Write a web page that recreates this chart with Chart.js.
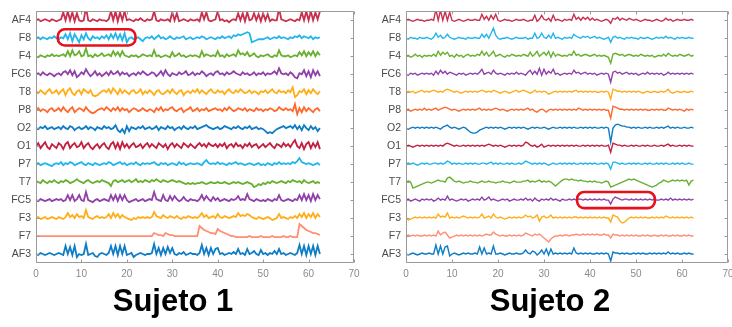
<!DOCTYPE html>
<html>
<head>
<meta charset="utf-8">
<script src="https://cdn.jsdelivr.net/npm/chart.js@4.4.1/dist/chart.umd.min.js"></script>
<style>
html, body { margin: 0; padding: 0; background: #fff; overflow: hidden; width: 732px; height: 327px; }
.panel { position: absolute; top: 0; height: 285px; }
#p1 { left: 0; width: 366px; }
#p2 { left: 370px; width: 370px; }
.title { position: absolute; top: 283px; width: 240px; text-align: center; color: #000;
  font: bold 31px/35px "Liberation Sans", Arial, sans-serif; }
</style>
</head>
<body>
<div class="panel" id="p1"><canvas id="chart1" width="366" height="285"></canvas></div>
<div class="panel" id="p2"><canvas id="chart2" width="370" height="285"></canvas></div>
<div class="title" style="left:53px">Sujeto 1</div>
<div class="title" style="left:430px">Sujeto 2</div>
<script>
// channel names, top to bottom
const channels = ['AF4', 'F8', 'F4', 'FC6', 'T8', 'P8', 'O2', 'O1', 'P7', 'T7', 'FC5', 'F3', 'F7', 'AF3'];
const xTicks = [0, 10, 20, 30, 40, 50, 60, 70];
const sampleStep = 0.5;      // seconds between samples
const channelSpacing = 18;   // amplitude units between two traces

// ---- Sujeto 1 ----
const s1AF4 = [0,1,-1,0,1,0,-1,1,0,-1, 0,1,8,0,9,0,8,-1,7,0, -1,0,13,0,-1,1,0,-1,1,0,
  0,-1,1,9,0,9,-1,8,0,9, 0,1,0,-1,1,0,2,0,-1,1, 0,1,9,0,-1,1,0,0,1,-1,
  8,0,7,-1,0,1,0,-1,1,0, 0,1,-1,8,1,8,0,-1,0,1, 9,0,1,-1,0,-2,0,1,0,7,
  0,7,-1,8,0,1,7,0,6,-1, 7,0,6,-1,1,0,0,12,1,0, -1,0,1,0,-1,1,0,8,0,9, 0,9,0,8,1,9];
const s1F8 = [0,1,-1,1,0,-1,1,0,2,0, -1,1,0,4,-1,5,-3,4,0,-4, 3,-1,5,0,-2,2,0,1,-1,2,
  0,3,-1,4,0,5,-1,4,-2,5, -4,0,1,-1,0,1,-1,-3,0,1, 0,2,-1,1,3,0,1,-1,0,2,
  0,-1,1,0,1,2,-1,0,1,-1, 0,1,0,2,1,-1,0,1,0,-1, 1,0,2,0,1,2,0,3,2,4,
  3,4,5,6,5,-4,-3,-2,-1,-1, -1,0,1,-1,0,1,0,2,0,1, 0,-1,1,0,2,1,3,0,2,1, 0,2,-1,1,0,1];
const s1F4 = [0,-1,1,0,-1,1,0,2,0,1, 0,1,2,0,5,0,6,1,2,5, 0,1,8,0,1,-1,2,0,1,3,
  0,1,2,0,5,1,4,0,5,1, 0,-1,1,0,1,-1,0,2,1,0, 1,0,6,0,1,-1,0,1,0,-1,
  4,0,1,3,0,1,-1,0,1,0, 1,0,-1,5,0,2,1,0,1,0, 5,0,1,-1,2,0,1,2,0,6,
  2,3,1,4,0,1,3,0,-1,1, 0,1,2,0,-1,1,0,6,1,0, 0,1,-1,0,1,0,4,1,5,0, 4,1,5,0,4,1];
const s1FC6 = [0,1,-1,2,0,-1,1,0,-2,0, 1,-1,2,3,0,4,-1,3,-3,-1, 2,0,5,1,-2,0,3,-1,1,-2,
  0,2,-1,3,0,1,3,-1,2,0, 1,-2,0,1,-1,2,0,3,1,-1, 0,2,1,-2,0,3,-1,4,0,-2,
  1,0,-1,2,0,1,3,-1,0,2, -1,1,0,3,1,-2,0,1,-1,2, 3,0,1,-1,2,0,1,3,1,0,
  -1,2,0,1,-1,0,2,-1,1,0, 2,-1,1,0,1,3,0,6,1,0, 1,-1,2,0,-3,-4,1,0,4,-2, 3,-3,4,-1,3,-2];
const s1T8 = [1,-1,2,0,-2,1,3,-1,0,2, -2,1,3,-3,2,4,-1,-3,1,2, -2,3,1,-1,2,-3,-4,-3,-1,1,
  2,0,3,-1,4,1,-2,3,-1,2, 0,-2,1,2,-1,0,3,-2,1,-1, 2,0,-3,1,2,-1,-2,0,2,-1,
  3,0,-2,1,2,-3,0,1,-1,2, 0,3,-1,2,0,-2,1,3,0,-1, 2,0,1,-2,1,3,0,-1,2,0,
  3,1,-1,0,2,-1,1,0,-2,1, 0,2,-1,1,3,0,-1,2,0,1, -1,2,0,5,-5,-3,1,0,3,-2, 2,-1,3,0,-2,1];
const s1P8 = [0,2,-1,1,0,-2,1,2,-1,0, 2,-1,3,0,-2,1,3,-2,0,2, 1,-1,3,0,-2,-3,-2,0,1,2,
  0,3,1,-1,2,0,3,-1,2,0, 1,-2,0,2,1,-1,0,2,0,-1, 1,0,-2,2,0,3,-1,1,0,2,
  3,0,-1,1,2,-2,0,1,3,-1, 0,2,-1,1,0,2,-1,0,1,2, 0,1,-1,2,0,3,1,-1,0,2,
  1,0,2,-1,1,0,-1,2,0,1, -1,1,0,2,1,-1,0,3,1,0, 2,0,1,-1,6,-4,2,-2,3,-1, 2,0,-2,1,2,-1];
const s1O2 = [0,-1,1,0,2,-1,0,1,-1,0, 1,-1,2,0,-1,2,1,-2,0,1, -1,0,2,-1,1,0,-2,1,0,-1,
  2,0,1,-1,0,3,-2,-4,-1,-5, 2,-3,1,0,-1,1,0,2,-1,0, 1,-1,0,2,-2,1,0,-1,2,0,
  1,-2,0,1,-1,2,0,-1,1,0, 2,-1,0,1,2,3,1,0,-1,0, 1,-1,0,2,1,0,-1,1,0,2,
  0,-1,1,0,2,-1,0,1,-1,0, -1,-3,-5,-4,-5,-3,-1,0,1,2, 0,1,2,0,3,-1,2,-2,3,0, -2,2,-1,1,-3,0];
const s1O1 = [0,3,-2,1,4,-1,-3,2,0,-2, 3,1,-3,2,4,-2,1,3,-1,0, 4,-2,1,3,-1,-3,0,2,-2,1,
  3,-1,-3,2,4,-2,3,-3,4,-1, 2,-2,1,3,-1,0,2,-2,1,3, -1,2,0,-2,3,1,-1,2,-3,1,
  3,-1,2,0,-2,3,1,-1,2,0, -2,1,3,0,2,-1,3,1,0,2, -1,2,0,3,-2,1,2,-1,3,0,
  1,-2,2,0,3,-1,1,2,-2,0, 2,-1,1,3,0,-2,2,1,-1,3, 0,2,-1,3,6,0,-2,3,-3,2, 4,-2,3,-1,4,-3];
const s1P7 = [0,1,-1,0,1,0,-1,-2,0,1, 0,2,-1,1,0,2,1,-1,0,1, 2,0,-1,1,0,-1,1,0,-1,0,
  1,0,2,1,-1,0,1,2,0,1, -1,0,1,0,2,0,-1,1,0,1, 0,1,2,0,-1,1,0,1,-1,0,
  1,0,-1,2,0,1,-1,0,1,0, 0,1,0,-1,2,4,1,0,1,0, 2,0,1,0,-1,1,0,1,2,0,
  1,0,-1,0,1,0,-1,0,1,-1, 0,-1,1,0,-1,1,0,2,0,1, 0,1,0,2,1,3,6,2,1,0, 1,0,-1,0,1,-1];
const s1T7 = [1,0,-1,2,0,-1,1,0,2,0, -1,1,0,2,1,-1,0,1,3,1, 0,-1,1,2,0,-1,0,1,0,2,
  1,0,-1,-4,1,2,0,1,2,0, 1,2,0,1,3,0,1,0,2,1, 0,2,1,3,1,0,2,1,0,1,
  2,1,0,1,0,-1,-2,-1,-2,-1, -2,-1,-1,0,-1,-2,-1,0,-1,-1, 0,-1,-1,0,-1,-2,-1,0,-1,0,
  -1,-2,-1,0,-1,-2,-5,-4,-2,-3, -1,-2,0,-1,1,0,-1,0,1,0, -1,1,0,2,1,0,1,-1,2,0, -1,0,1,-1,0,-1];
const s1FC5 = [0,-1,1,0,-1,0,1,-1,0,1, 0,1,-1,0,5,0,5,-1,1,5, 0,-1,8,0,-1,-2,0,1,-1,0,
  1,0,-1,5,0,5,-1,5,0,5, 0,-2,-1,0,1,-1,0,1,-1,0, 1,0,8,1,0,-1,5,0,-1,4,
  0,4,1,-1,0,3,0,-1,1,0, 0,-1,1,5,0,4,1,-1,3,0, 2,-1,0,1,0,-1,1,0,1,4,
  0,1,0,6,1,0,-1,1,0,-1, 0,-1,1,0,-1,1,0,5,0,-1, 0,1,0,-1,1,0,5,0,6,0, 5,-1,6,0,5,1];
const s1F3 = [0,1,-1,0,1,-1,0,1,0,-1, 1,0,-1,1,5,1,3,0,4,1, 2,0,8,1,0,-1,1,2,0,1,
  0,1,4,0,5,1,4,0,3,1, 0,-1,-2,0,-1,1,0,1,0,1, 0,1,6,2,1,0,3,1,0,2,
  1,0,2,0,-1,1,0,2,1,0, 1,0,2,5,1,3,0,1,2,0, 4,1,0,2,1,0,1,2,1,5,
  2,3,2,4,3,1,0,-1,1,0, -1,0,1,0,-2,-1,0,4,0,1, 0,-1,1,0,2,0,4,1,5,0, 4,1,5,0,4,1];
const s1F7 = [0,0,0,0,0,0,0,0,0,0, 0,0,0,0,0,0,0,0,0,0, 0,0,0,0,0,0,0,0,0,0,
  0,0,0,0,0,0,0,0,0,0, 0,0,0,0,0,0,0,0,0,0, 0,0,3,2,1,1,0,3,2,1,
  1,0,0,0,0,0,0,0,0,0, 0,0,10,8,6,5,4,3,3,2, 7,5,4,3,2,1,0,0,-1,-1,
  -1,-1,-1,-1,0,-1,-1,-1,-1,0, -1,-1,-1,-1,0,-1,-1,-1,-1,0, -1,-1,0,-1,-1,-1,12,10,8,6, 5,4,3,3,2,1];
const s1AF3 = [0,-1,1,0,-1,0,1,0,-1,0, 1,0,-1,8,0,7,-1,8,-3,0, -1,0,10,-1,0,1,-2,-3,0,1,
  0,-1,1,8,0,8,-1,8,0,8, -1,0,1,-3,-1,0,1,0,-1,0, 0,1,10,0,6,-1,6,0,7,1,
  6,0,-1,1,0,2,-1,0,1,0, 0,-1,1,9,0,6,-1,6,0,5, 6,0,1,-1,0,1,0,2,0,5,
  0,1,-1,5,0,1,3,0,-1,4, 0,1,-1,1,0,3,0,5,0,1, -1,0,1,0,-1,1,9,0,8,-1, 8,0,8,-1,8,0];

// ---- Sujeto 2 ----
const s2AF4 = [0,1,0,-1,0,1,0,0,-1,0, 0,1,0,11,0,10,0,9,0,8, 0,-1,0,1,0,-1,0,1,0,0,
  1,0,0,6,1,4,0,5,1,6, 0,-1,0,1,0,0,-1,0,1,0, 0,1,0,-1,0,0,5,-1,1,5,
  1,0,2,-1,5,0,1,0,-1,1, 0,1,0,6,1,3,0,3,1,3, 0,2,0,1,0,-1,0,1,0,-3,
  2,1,3,0,2,1,0,2,1,0, 1,0,-1,0,1,0,0,-1,0,1, 0,-1,0,2,0,1,-1,0,1,0, 0,1,0,0,1,0];
const s2F8 = [0,-1,1,0,0,-1,1,0,0,1, 0,-1,1,5,1,3,0,1,4,1, 0,-1,0,1,0,0,-1,1,0,0,
  1,0,0,4,1,4,0,5,10,3, 0,-1,0,0,1,0,-1,0,1,0, 0,0,1,-1,0,0,5,0,1,5,
  1,0,3,0,5,0,1,0,-1,1, 0,1,0,4,2,1,0,2,1,2, 0,1,2,0,1,0,-1,0,1,-4,
  1,2,0,1,0,-1,1,0,1,0, 0,-1,1,0,0,1,0,-1,0,1, 0,1,0,2,0,1,0,-1,1,0, 1,0,0,1,0,0];
const s2F4 = [0,1,-1,0,2,0,1,-1,1,0, 1,0,2,0,5,1,4,2,4,0, 1,-1,2,0,1,-1,1,2,0,1,
  0,2,1,5,1,4,0,2,5,0, 1,2,0,-1,1,0,2,1,0,1, 0,2,1,0,4,0,2,5,0,2,
  4,1,5,-1,4,0,2,1,0,1, 0,2,1,5,1,2,0,1,2,1, 0,1,2,0,1,0,1,0,-1,-7,
  2,3,2,1,2,0,1,2,1,0, 1,0,2,1,0,1,0,1,-1,0, 1,0,2,0,3,1,0,1,0,2, 1,0,1,2,0,1];
const s2FC6 = [0,-1,1,0,1,-1,0,1,0,1, 0,1,-1,3,0,4,1,3,0,2, 1,0,-1,1,0,1,-1,0,1,0,
  1,0,2,5,0,1,2,0,4,1, 0,1,0,-1,1,0,1,0,2,0, 1,0,-1,2,4,0,3,0,6,-1,
  5,0,3,1,5,0,1,-1,0,1, 0,1,0,4,1,2,0,1,2,0, 1,0,1,-1,0,1,0,1,0,-8,
  2,3,1,2,0,1,2,0,1,0, 1,-1,0,1,0,2,0,1,0,1, 0,1,-1,0,2,0,1,0,1,0, 1,0,1,0,1,0];
const s2T8 = [0,1,0,1,-1,0,1,2,0,1, 0,1,2,1,0,1,0,2,3,2, 1,0,1,0,-1,0,1,0,1,0,
  1,0,1,2,1,0,1,0,2,1, 0,-1,0,1,0,-1,0,1,2,0, 1,2,1,0,-1,0,2,0,1,0,
  1,0,-2,-1,0,1,0,1,0,1, 0,1,0,1,2,0,1,0,1,0, 1,0,1,0,0,1,0,1,0,-7,
  3,2,1,1,0,1,0,1,0,1, 0,1,0,-1,0,1,0,0,1,0, 0,1,0,1,3,0,-1,0,1,0, 0,1,0,0,1,0];
const s2P8 = [0,1,-1,0,1,0,1,0,2,0, 1,0,1,2,0,1,2,3,2,1, 0,1,0,-1,0,1,0,1,0,1,
  0,1,2,0,1,0,1,0,1,2, 1,0,1,0,-1,0,1,0,1,0, 1,0,1,2,0,1,-1,-2,0,1,
  0,-2,0,1,0,1,0,1,0,1, 0,1,0,1,0,2,1,0,1,0, 1,0,1,0,1,0,1,0,0,-8,
  4,3,2,1,1,0,1,0,1,0, 1,0,1,0,1,0,0,1,0,1, 0,1,0,0,2,1,0,1,0,1, 0,-1,1,0,1,0];
const s2O2 = [0,-1,0,1,0,1,0,1,0,1, 0,1,0,1,0,-1,1,2,3,1, 0,1,0,-1,0,1,0,-2,-4,-5,
  -5,-4,-2,-1,0,1,0,1,0,1, 0,1,0,-1,0,1,0,1,0,1, 0,1,0,-1,0,1,0,1,0,0,
  1,0,-1,0,1,0,0,1,0,1, 0,1,0,1,0,0,1,0,1,0, 1,0,1,0,0,1,0,1,0,-14,
  0,3,4,3,2,2,1,1,0,1, 0,1,0,0,1,0,1,0,0,1, 0,1,0,1,2,0,1,0,1,0, 0,1,0,0,1,0];
const s2O1 = [0,1,0,-1,0,1,0,1,0,1, 0,1,0,1,0,1,0,2,3,2, 1,0,1,0,0,1,0,1,0,1,
  0,1,0,1,0,1,2,1,0,1, 0,1,0,-1,0,1,0,1,0,1, 0,1,4,3,1,0,1,-1,0,2,
  -1,0,1,0,1,0,1,0,1,0, 1,0,1,0,1,0,0,1,0,1, 0,1,0,1,0,1,0,0,1,-6,
  3,2,1,1,0,1,0,0,1,0, 1,0,0,1,0,1,0,0,1,0, 0,1,0,1,2,0,1,0,0,1, 0,1,0,1,0,0];
const s2P7 = [0,1,0,1,0,-1,0,1,0,1, 0,0,1,1,0,1,0,1,3,2, 0,1,0,1,0,0,1,0,1,0,
  1,0,0,1,1,0,1,2,0,1, 0,1,0,0,1,0,1,0,0,1, 0,1,3,2,1,0,1,0,1,0,
  1,0,-1,0,1,0,0,1,0,1, 0,1,0,1,0,0,1,0,1,0, 1,0,1,0,0,1,0,1,0,-5,
  2,2,1,0,1,0,0,1,0,1, 0,1,0,0,1,0,1,0,0,1, 0,1,0,1,0,0,1,0,1,0, 1,0,0,1,0,0];
const s2T7 = [0,1,0,-6,-5,-4,-3,-2,-1,0, 0,-1,0,1,2,1,1,0,4,5, 3,1,0,1,0,-1,0,0,1,0,
  0,-1,0,1,0,0,1,0,0,-1, 0,0,1,0,0,-1,0,1,0,0, 0,1,1,2,0,1,0,1,2,0,
  1,0,1,0,-2,-4,-2,0,2,3, 3,2,3,2,2,1,2,1,1,0, 1,0,1,0,0,-1,0,1,0,-5,
  -4,-3,-2,-1,0,1,2,3,2,3, 2,1,0,-1,-2,-3,-4,-5,-4,-3, -1,0,2,1,0,1,2,1,2,1, 2,1,2,-3,1,2];
const s2FC5 = [0,1,-1,0,1,0,-1,1,0,1, 0,1,-1,0,2,0,1,0,4,0, 1,0,-1,0,1,0,1,-1,0,1,
  0,1,0,3,0,1,3,0,1,0, -1,0,1,0,1,-1,0,1,0,0, 1,0,2,0,1,-1,2,0,-1,1,
  0,1,0,2,0,1,0,-1,1,0, 0,1,0,1,0,1,1,0,1,0, 1,0,1,0,1,0,1,0,0,-4,
  1,3,2,1,0,1,1,0,1,0, 1,0,1,0,1,0,1,0,1,0, 0,1,0,1,0,2,0,1,0,1, 0,1,0,1,0,1];
const s2F3 = [0,-2,-1,0,1,0,1,0,1,0, 1,0,1,0,4,1,2,1,5,0, 1,0,1,0,1,2,1,0,1,0,
  1,0,1,4,0,1,2,0,4,1, 0,1,0,-1,0,1,0,1,0,1, 0,1,3,1,2,0,1,3,-3,1,
  2,0,1,3,0,1,0,1,0,1, 0,1,0,1,1,0,1,0,1,0, 1,0,1,0,1,0,1,0,0,-4,
  3,2,1,-3,-5,-4,-2,0,1,0, 1,0,1,0,1,0,0,1,0,1, 0,1,0,2,1,0,1,0,1,0, 1,0,1,0,1,0];
const s2F7 = [0,1,0,1,0,1,0,0,1,0, 1,0,1,0,5,1,3,4,1,-2, -1,0,1,0,1,0,1,0,1,0,
  1,0,1,0,1,2,1,1,4,2, 1,0,1,0,0,1,0,1,0,1, 0,1,3,2,1,0,2,1,2,0,
  -2,-4,-6,-3,-1,0,0,1,0,1, 1,0,1,1,2,1,1,2,1,2, 1,2,1,2,1,1,2,1,1,-2,
  2,1,1,0,1,0,1,0,1,0, 1,0,0,1,0,1,0,0,1,0, 0,1,0,1,0,0,1,0,1,0, 0,1,0,1,0,0];
const s2AF3 = [0,-1,0,1,0,-1,0,1,0,0, 1,0,0,9,0,8,0,7,8,-2, 0,1,0,-1,0,1,0,1,0,0,
  1,0,7,0,6,0,1,0,8,0, 0,1,0,-1,0,1,0,0,1,0, 0,1,4,1,0,3,2,-1,1,4,
  0,5,-1,5,0,1,0,1,0,1, 0,1,0,6,1,0,1,0,1,0, 1,0,0,1,0,1,0,1,0,-7,
  2,1,1,0,1,0,1,0,0,1, 0,1,0,1,0,0,1,0,1,0, 1,0,1,0,2,0,1,0,1,0, 0,1,0,1,0,0];

const subject1 = [s1AF4, s1F8, s1F4, s1FC6, s1T8, s1P8, s1O2, s1O1, s1P7, s1T7, s1FC5, s1F3, s1F7, s1AF3];
const subject2 = [s2AF4, s2F8, s2F4, s2FC6, s2T8, s2P8, s2O2, s2O1, s2P7, s2T7, s2FC5, s2F3, s2F7, s2AF3];

// MATLAB-like line colours, one per channel
const colors = ['#C8304E', '#22B6EC', '#68B030', '#9040A8', '#FFAE18', '#FF682C', '#0E7CC6',
  '#C21E40', '#22B6EC', '#68B030', '#9040A8', '#FFAE18', '#FF8E72', '#0E7CC6'];

const boxPlugin = {
  id: 'box',
  afterDraw(chart) {
    const { ctx, chartArea: a, scales } = chart;
    const l = Math.round(a.left) + 0.5, r = Math.round(a.right) - 0.5;
    const t = Math.round(a.top) + 0.5, b = Math.round(a.bottom) - 0.5;
    ctx.save();
    ctx.strokeStyle = '#9a9a9a';
    ctx.lineWidth = 1;
    ctx.beginPath();
    ctx.rect(l, t, r - l, b - t);
    scales.x.ticks.forEach(tk => {
      const px = Math.round(scales.x.getPixelForValue(tk.value)) + 0.5;
      ctx.moveTo(px, b); ctx.lineTo(px, b - 3);
      ctx.moveTo(px, t); ctx.lineTo(px, t + 3);
    });
    scales.y.ticks.forEach(tk => {
      const py = Math.round(scales.y.getPixelForValue(tk.value)) + 0.5;
      ctx.moveTo(l, py); ctx.lineTo(l + 3, py);
      ctx.moveTo(r, py); ctx.lineTo(r - 3, py);
    });
    ctx.stroke();
    ctx.restore();
  }
};

const highlightPlugin = {
  id: 'highlight',
  afterDatasetsDraw(chart, args, opts) {
    if (!opts.box) return;
    const { ctx, scales } = chart;
    const [t0, t1, v0, v1] = opts.box;
    const l = scales.x.getPixelForValue(t0), r = scales.x.getPixelForValue(t1);
    const top = scales.y.getPixelForValue(v1), bot = scales.y.getPixelForValue(v0);
    ctx.save();
    ctx.strokeStyle = '#E8101C';
    ctx.lineWidth = 2.6;
    ctx.beginPath();
    ctx.roundRect(l, top, r - l, bot - top, 7);
    ctx.stroke();
    ctx.restore();
  }
};

function makeChart(id, series, lineWidth, box) {
  const n = channels.length;
  return new Chart(document.getElementById(id), {
    type: 'line',
    data: {
      datasets: series.map((vals, k) => ({
        data: vals.map((v, i) => ({ x: i * sampleStep, y: n - k + v / channelSpacing })),
        borderColor: colors[k],
        borderWidth: lineWidth,
        pointRadius: 0,
        tension: 0,
      })),
    },
    options: {
      responsive: false,
      animation: false,
      devicePixelRatio: 1,
      layout: { padding: { top: 9, right: 12, left: 0, bottom: 0 } },
      plugins: {
        legend: { display: false },
        tooltip: { enabled: false },
        highlight: { box },
      },
      scales: {
        x: {
          type: 'linear', min: 0, max: 70,
          afterBuildTicks: s => { s.ticks = xTicks.map(v => ({ value: v })); },
          afterFit: s => { s.height = 22; },
          grid: { display: false, drawTicks: false },
          border: { display: false },
          ticks: { color: '#8a8a8a', padding: 5, maxRotation: 0, font: { family: 'Liberation Sans', size: 10 } },
        },
        y: {
          type: 'linear', min: 0.5, max: 14.5,
          afterBuildTicks: s => { s.ticks = channels.map((c, k) => ({ value: n - k })); },
          afterFit: s => { s.width = 36; },
          grid: { display: false, drawTicks: false },
          border: { display: false },
          ticks: {
            color: '#4a4a4a', padding: 5,
            font: { family: 'Liberation Sans', size: 10.5 },
            callback: v => channels[n - v],
          },
        },
      },
    },
    plugins: [boxPlugin, highlightPlugin],
  });
}

makeChart('chart1', subject1, 1.8, [4.8, 21.9, 12.6, 13.5]);
makeChart('chart2', subject2, 1.4, [37.2, 54.1, 3.55, 4.45]);
</script>
</body>
</html>
